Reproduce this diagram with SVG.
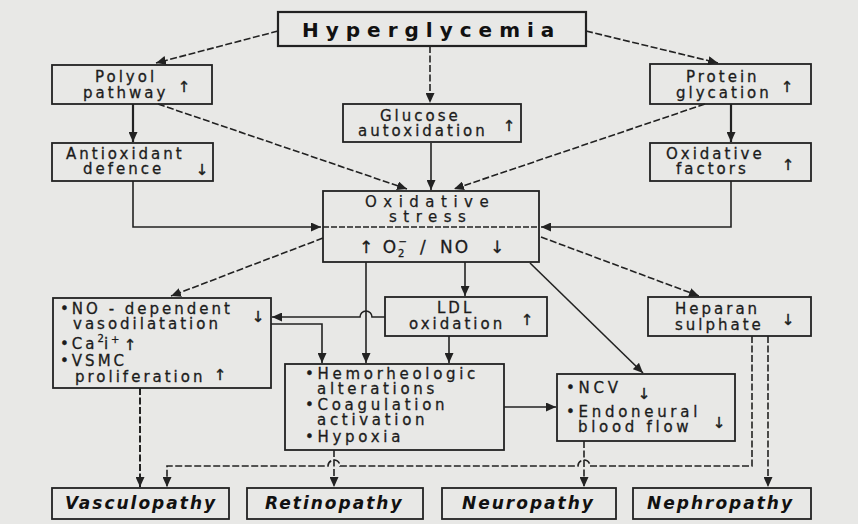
<svg xmlns="http://www.w3.org/2000/svg" width="858" height="524" viewBox="0 0 858 524">
<style>
.bx{fill:none;stroke:#222;stroke-width:1.8}
.c{fill:none;stroke:#222;stroke-width:1.6}
.d{stroke-dasharray:7 2.5}
.t{font-family:"DejaVu Sans",sans-serif;font-size:15px;letter-spacing:3px;fill:#1c1c1c;stroke:#1c1c1c;stroke-width:0.3}
.t16{font-family:"DejaVu Sans",sans-serif;font-size:15px;letter-spacing:3.7px;fill:#1c1c1c;stroke:#1c1c1c;stroke-width:0.3}
.ar{font-family:"DejaVu Sans",sans-serif;font-size:15px;fill:#1c1c1c;text-anchor:middle;stroke:#1c1c1c;stroke-width:0.4}
.h{font-family:"DejaVu Sans",sans-serif;font-size:20px;font-weight:bold;letter-spacing:7px;fill:#111}
.os{font-family:"DejaVu Sans",sans-serif;font-size:15px;letter-spacing:6.5px;fill:#1c1c1c;stroke:#1c1c1c;stroke-width:0.25}
.os2{font-family:"DejaVu Sans",sans-serif;font-size:17px;letter-spacing:2px;fill:#1c1c1c;stroke:#1c1c1c;stroke-width:0.3}
.b{font-family:"DejaVu Sans",sans-serif;font-size:17px;font-weight:bold;font-style:italic;letter-spacing:2px;fill:#111}
</style>
<defs>
<marker id="a" markerUnits="userSpaceOnUse" markerWidth="10" markerHeight="9" refX="10" refY="4.5" orient="auto">
<path d="M0,0 L10,4.5 L0,9 Z" fill="#222"/>
</marker>
</defs>
<rect width="858" height="524" fill="#e8e8e6"/>

<g id="connectors">
<path class="c d" d="M278,31 L156,63" marker-end="url(#a)"/>
<path class="c d" d="M430,46 V103" marker-end="url(#a)"/>
<path class="c d" d="M586,31 L718,63" marker-end="url(#a)"/>
<path class="c" d="M133,104 V142" marker-end="url(#a)" style="stroke-width:2.2"/>
<path class="c d" d="M158,104 L407,189" marker-end="url(#a)"/>
<path class="c" d="M431,143 V190" marker-end="url(#a)"/>
<path class="c d" d="M705,104 L454,189" marker-end="url(#a)"/>
<path class="c" d="M731,104 V142" marker-end="url(#a)" style="stroke-width:2.2"/>
<path class="c" d="M133,181 V227 H321" marker-end="url(#a)"/>
<path class="c" d="M731,181 V227 H541" marker-end="url(#a)"/>
<path class="c d" d="M323,238 L171,296" marker-end="url(#a)"/>
<path class="c" d="M366,262 V363" marker-end="url(#a)"/>
<path class="c" d="M465,262 V296" marker-end="url(#a)"/>
<path class="c" d="M530,263 L643,373" marker-end="url(#a)"/>
<path class="c d" d="M541,237 L699,296" marker-end="url(#a)"/>
<path class="c" d="M385,317 H372 A6,6 0 0 0 360,317 H272" marker-end="url(#a)"/>
<path class="c" d="M271,324 H322 V363" marker-end="url(#a)"/>
<path class="c" d="M449,336 V363" marker-end="url(#a)"/>
<path class="c" d="M504,407 H556" marker-end="url(#a)"/>
<path class="c d" d="M140,388 V487" marker-end="url(#a)" style="stroke-width:2"/>
<path class="c d" d="M752,336 V466 H590 A6,6 0 0 0 578,466 H340 A6,6 0 0 0 328,466 H167 V487" marker-end="url(#a)"/>
<path class="c d" d="M334,450 V487" marker-end="url(#a)"/>
<path class="c d" d="M584,441 V487" marker-end="url(#a)"/>
<path class="c d" d="M768,336 V487" marker-end="url(#a)"/>
</g>

<g id="hyperglycemia">
<rect class="bx" x="278" y="12" width="308" height="34" style="stroke-width:2.2"/>
<text class="h" x="302" y="37">Hyperglycemia</text>
</g>

<g id="polyol">
<rect class="bx" x="52" y="65" width="160" height="39"/>
<text class="t"><tspan x="95" y="82">Polyol</tspan><tspan x="83" y="98">pathway</tspan></text>
<text class="ar" x="184" y="92">↑</text>
</g>

<g id="antioxidant">
<rect class="bx" x="52" y="143" width="161" height="38"/>
<text class="t"><tspan x="66" y="159">Antioxidant</tspan><tspan x="83" y="174">defence</tspan></text>
<text class="ar" x="202" y="175">↓</text>
</g>

<g id="glucose">
<rect class="bx" x="343" y="104" width="178" height="38"/>
<text class="t"><tspan x="380" y="121">Glucose</tspan><tspan x="358" y="136">autoxidation</tspan></text>
<text class="ar" x="509" y="131">↑</text>
</g>

<g id="protein">
<rect class="bx" x="650" y="64" width="161" height="40"/>
<text class="t"><tspan x="686" y="82">Protein</tspan><tspan x="676" y="98">glycation</tspan></text>
<text class="ar" x="787" y="92">↑</text>
</g>

<g id="oxfactors">
<rect class="bx" x="650" y="143" width="161" height="38"/>
<text class="t"><tspan x="666" y="159">Oxidative</tspan><tspan x="676" y="174">factors</tspan></text>
<text class="ar" x="788" y="170">↑</text>
</g>

<g id="oxstress">
<rect class="bx" x="323" y="191" width="216" height="71"/>
<text class="os"><tspan x="365" y="207">Oxidative</tspan><tspan x="389" y="222">stress</tspan></text>
<line x1="323" y1="227" x2="539" y2="227" stroke="#222" stroke-width="1.5" stroke-dasharray="6 2"/>
<text class="os2" x="359" y="253">↑ O<tspan font-size="10" dy="4" letter-spacing="0">2</tspan><tspan font-size="10" dx="-6" dy="-12" letter-spacing="0">−</tspan><tspan x="420" dy="8">/</tspan><tspan x="440">NO</tspan><tspan x="490">↓</tspan></text>
</g>

<g id="nodependent">
<rect class="bx" x="53" y="298" width="218" height="90"/>
<text class="t"><tspan x="60" y="314">•NO - dependent</tspan><tspan x="73" y="329">vasodilatation</tspan><tspan x="60" y="349">•Ca</tspan><tspan font-size="10" dy="-7" letter-spacing="0">2</tspan><tspan dy="7">i</tspan><tspan font-size="10" dy="-6" letter-spacing="0">+</tspan><tspan x="60" y="366">•VSMC</tspan><tspan x="75" y="382">proliferation</tspan></text>
<text class="ar" x="258" y="322">↓</text>
<text class="ar" x="130" y="350">↑</text>
<text class="ar" x="220" y="380">↑</text>
</g>

<g id="ldl">
<rect class="bx" x="385" y="297" width="162" height="39"/>
<text class="t"><tspan x="437" y="313">LDL</tspan><tspan x="409" y="329">oxidation</tspan></text>
<text class="ar" x="527" y="325">↑</text>
</g>

<g id="heparan">
<rect class="bx" x="648" y="297" width="163" height="39"/>
<text class="t"><tspan x="675" y="314">Heparan</tspan><tspan x="675" y="330">sulphate</tspan></text>
<text class="ar" x="788" y="325">↓</text>
</g>

<g id="hemorheologic">
<rect class="bx" x="285" y="364" width="219" height="86"/>
<text class="t16"><tspan x="305" y="379">•Hemorheologic</tspan><tspan x="317" y="394">alterations</tspan><tspan x="305" y="410">•Coagulation</tspan><tspan x="317" y="425">activation</tspan><tspan x="305" y="442">•Hypoxia</tspan></text>
</g>

<g id="ncv">
<rect class="bx" x="557" y="374" width="178" height="67"/>
<text class="t16"><tspan x="566" y="393">•NCV</tspan><tspan x="566" y="417">•Endoneural</tspan><tspan x="578" y="432">blood flow</tspan></text>
<text class="ar" x="644" y="399">↓</text>
<text class="ar" x="719" y="428">↓</text>
</g>

<g id="vasculopathy">
<rect class="bx" x="52" y="488" width="177" height="31"/>
<text class="b" x="65" y="509">Vasculopathy</text>
</g>
<g id="retinopathy">
<rect class="bx" x="247" y="488" width="176" height="31"/>
<text class="b" x="265" y="509">Retinopathy</text>
</g>
<g id="neuropathy">
<rect class="bx" x="442" y="488" width="174" height="31"/>
<text class="b" x="462" y="509">Neuropathy</text>
</g>
<g id="nephropathy">
<rect class="bx" x="633" y="488" width="178" height="31"/>
<text class="b" x="647" y="509">Nephropathy</text>
</g>
</svg>
